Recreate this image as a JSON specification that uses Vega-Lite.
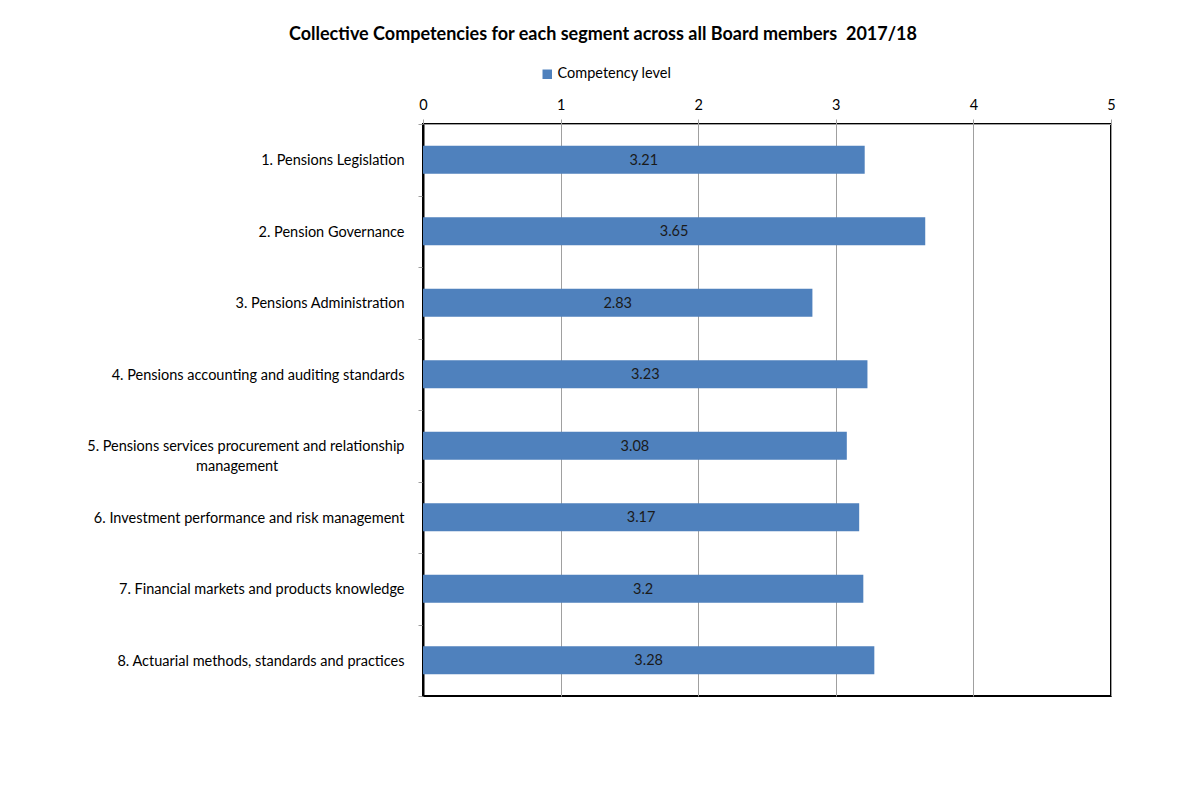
{
  "$schema": "https://vega.github.io/schema/vega-lite/v6.json",
  "width": 688,
  "height": 572,
  "autosize": {"type": "none"},
  "padding": {"left": 423, "top": 124, "right": 89, "bottom": 96},
  "background": "white",
  "title": {
    "text": "Collective Competencies for each segment across all Board members \u00a02017/18",
    "font": "Lato",
    "fontSize": 18,
    "fontWeight": "bold",
    "color": "#000000",
    "anchor": "middle",
    "frame": "group",
    "dx": -164,
    "offset": 23
  },
  "data": {
    "values": [
      {"segment": "1. Pensions Legislation", "level": 3.21},
      {"segment": "2. Pension Governance", "level": 3.65},
      {"segment": "3. Pensions Administration", "level": 2.83},
      {"segment": "4. Pensions accounting and auditing standards", "level": 3.23},
      {"segment": "5. Pensions services procurement and relationship management", "level": 3.08},
      {"segment": "6. Investment  performance and risk management", "level": 3.17},
      {"segment": "7. Financial markets and products knowledge", "level": 3.2},
      {"segment": "8. Actuarial methods, standards and practices", "level": 3.28}
    ]
  },
  "encoding": {
    "y": {
      "field": "segment",
      "type": "nominal",
      "sort": null,
      "scale": {"paddingInner": 0, "paddingOuter": 0},
      "axis": {
        "title": null,
        "tickBand": "extent",
        "tickSize": 5,
        "tickColor": "#a0a0a0",
        "domainColor": "#000000",
        "domainWidth": 2,
        "labelAlign": "right",
        "labelPadding": 14,
        "labelOffset": 1,
        "labelFont": "Lato",
        "labelFontSize": 14.5,
        "labelColor": "#000000",
        "labelLimit": 0,
        "labelLineHeight": 20,
        "labelExpr": "indexof(datum.label, 'relationship') >= 0 ? ['5. Pensions services procurement and relationship', pad('management', 44, '\u00a0') + '\u200b'] : datum.label"
      }
    }
  },
  "layer": [
    {
      "mark": {"type": "bar", "height": {"band": 0.39}},
      "encoding": {
        "x": {
          "field": "level",
          "type": "quantitative",
          "scale": {"domain": [0, 5], "nice": false},
          "axis": {
            "orient": "top",
            "title": null,
            "values": [0, 1, 2, 3, 4, 5],
            "format": "d",
            "labelFlush": false,
            "grid": true,
            "gridColor": "#a0a0a0",
            "gridOpacity": 1,
            "domainColor": "#a0a0a0",
            "tickColor": "#a0a0a0",
            "tickSize": 5,
            "labelPadding": 7,
            "labelFont": "Lato",
            "labelFontSize": 14.5,
            "labelColor": "#000000"
          }
        },
        "color": {
          "datum": "Competency level",
          "type": "nominal",
          "scale": {"range": ["#4F81BD"]},
          "legend": {
            "title": null,
            "orient": "none",
            "legendX": 117,
            "legendY": -57,
            "direction": "horizontal",
            "symbolType": "square",
            "symbolSize": 90,
            "symbolStrokeWidth": 0,
            "labelFont": "Lato",
            "labelFontSize": 14.5,
            "labelColor": "#000000",
            "labelOffset": 3
          }
        }
      }
    },
    {
      "mark": {"type": "text", "font": "Lato", "fontSize": 14.5, "color": "#1a1a1a", "dy": 1},
      "encoding": {
        "x": {"field": "level", "type": "quantitative", "stack": "zero", "bandPosition": 0.5},
        "text": {"field": "level", "type": "quantitative"}
      }
    }
  ],
  "config": {
    "view": {"stroke": "#000000", "strokeWidth": 2}
  }
}
